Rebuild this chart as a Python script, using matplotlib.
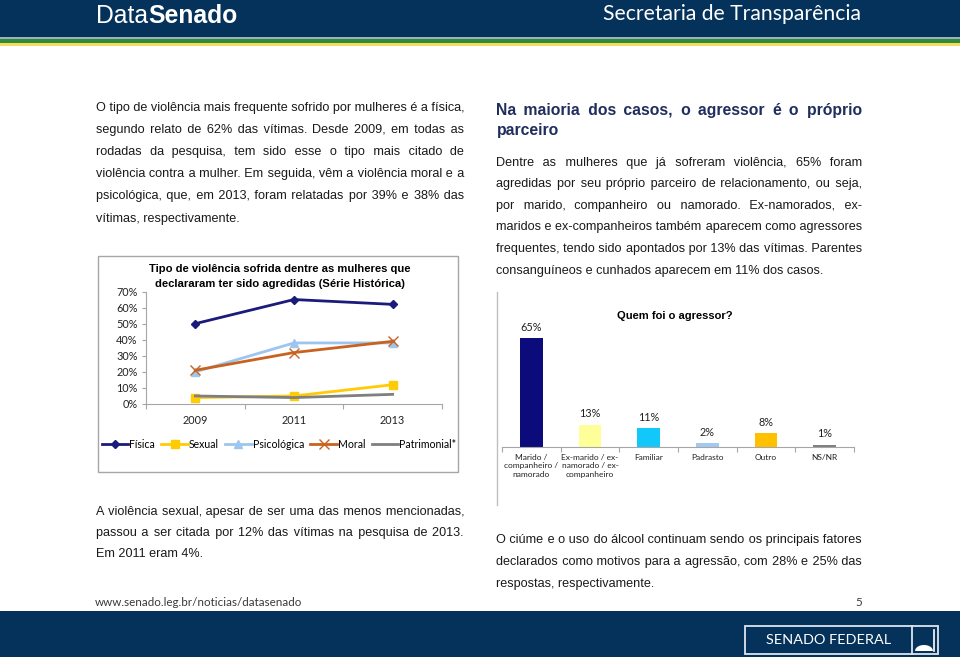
import matplotlib
matplotlib.use('Agg')
import matplotlib.pyplot as plt
from matplotlib.patches import Rectangle
import numpy as np

W, H = 960, 657

# ---------------- data ----------------
years = ['2009', '2011', '2013']
fisica = [50, 65, 62]
sexual = [4, 5, 12]
psicologica = [20, 38, 38]
moral = [21, 32, 39]
patrimonial = [5, 4, 6]
series_names = ['Física', 'Sexual', 'Psicológica', 'Moral', 'Patrimonial*']
y_ticks = [0, 10, 20, 30, 40, 50, 60, 70]

agressor_cats = ['Marido /\ncompanheiro /\nnamorado',
                 'Ex-marido / ex-\nnamorado / ex-\ncompanheiro',
                 'Familiar', 'Padrasto', 'Outro', 'NS/NR']
agressor_vals = [65, 13, 11, 2, 8, 1]
agressor_colors = ['#0b0b7c', '#ffff99', '#12c8fb', '#a3c9ef', '#ffc000', '#808080']

left_par = [
    "O tipo de violência mais frequente sofrido por mulheres é a física,",
    "segundo relato de 62% das vítimas. Desde 2009, em todas as",
    "rodadas da pesquisa, tem sido esse o tipo mais citado de",
    "violência contra a mulher. Em seguida, vêm a violência moral e a",
    "psicológica, que, em 2013, foram relatadas por 39% e 38% das",
    "vítimas, respectivamente.",
]
right_head = ["Na maioria dos casos, o agressor é o próprio", "parceiro"]
right_par = [
    "Dentre as mulheres que já sofreram violência, 65% foram",
    "agredidas por seu próprio parceiro de relacionamento, ou seja,",
    "por marido, companheiro ou namorado. Ex-namorados, ex-",
    "maridos e ex-companheiros também aparecem como agressores",
    "frequentes, tendo sido apontados por 13% das vítimas. Parentes",
    "consanguíneos e cunhados aparecem em 11% dos casos.",
]
bl_par = [
    "A violência sexual, apesar de ser uma das menos mencionadas,",
    "passou a ser citada por 12% das vítimas na pesquisa de 2013.",
    "Em 2011 eram 4%.",
]
br_par = [
    "O ciúme e o uso do álcool continuam sendo os principais fatores",
    "declarados como motivos para a agressão, com 28% e 25% das",
    "respostas, respectivamente.",
]

ARIAL = ['Liberation Sans', 'DejaVu Sans']
CALI = 'Lato'
NAVY = '#05325a'
TXT = '#1a1a1a'
HS = '\u200a'

fig = plt.figure(figsize=(9.6, 6.57), dpi=100)
bg = fig.add_axes([0, 0, 1, 1])
bg.set_xlim(0, W)
bg.set_ylim(H, 0)
bg.axis('off')
renderer = fig.canvas.get_renderer()


def measure(s, fs, family, weight='normal'):
    t = bg.text(0, 0, s, fontsize=fs, family=family, weight=weight)
    w = t.get_window_extent(renderer).width
    t.remove()
    return w


def fit_fs(s, target, family, weight='normal', base=10.0):
    return base * target / measure(s, base, family, weight)


def em(fs):
    return fs * 100 / 72.0


def justify(line, width, fs, family, weight):
    """Widen the spaces of a line with hair spaces so that it fills `width`."""
    nat = measure(line, fs, family, weight)
    n = line.count(' ')
    if n == 0:
        return line
    hw = (measure('a' + HS * 20 + 'a', fs, family, weight) - measure('aa', fs, family, weight)) / 20
    if hw <= 0:
        return line
    extra = max(width - nat, 0)
    out, i, prev = [], 0, 0
    for ch in line:
        out.append(ch)
        if ch == ' ':
            i += 1
            cum = int(round(i * extra / n / hw))
            out.append(HS * (cum - prev))
            prev = cum
    return ''.join(out)


def paragraph(lines, x0, x1, yc0, dy, fs, family, color, weight='normal'):
    for i, line in enumerate(lines):
        yb = yc0 + i * dy + 0.36 * em(fs)
        s = line if i == len(lines) - 1 else justify(line, x1 - x0, fs, family, weight)
        bg.text(x0, yb, s, fontsize=fs, family=family, weight=weight, color=color,
                ha='left', va='baseline')


# ---------------- header ----------------
bg.add_patch(Rectangle((0, 0), W, 37, color=NAVY, lw=0))
bg.add_patch(Rectangle((0, 37), W, 2.2, color='#9fb0b8', lw=0))
bg.add_patch(Rectangle((0, 39.2), W, 4, color='#2a8c3c', lw=0))
bg.add_patch(Rectangle((0, 43.2), W, 3, color='#f6dc5a', lw=0))

base = 10
wd = measure('Data', base, ARIAL)
ws_ = measure('Senado', base, ARIAL, 'bold')
fsh = base * 142 / (wd + ws_)
bg.text(96, 23, 'Data', fontsize=fsh, family=ARIAL, color='white', ha='left', va='baseline')
bg.text(96 + wd * fsh / base, 23, 'Senado', fontsize=fsh, family=ARIAL, weight='bold',
        color='white', ha='left', va='baseline')
fss = fit_fs('Secretaria de Transparência', 257, CALI)
bg.text(603, 20, 'Secretaria de Transparência', fontsize=fss, family=CALI, color='white',
        ha='left', va='baseline')

# ---------------- footer ----------------
bg.add_patch(Rectangle((0, 611), W, H - 611, color=NAVY, lw=0))
fsu = fit_fs('www.senado.leg.br/noticias/datasenado', 208, CALI)
bg.text(95, 606, 'www.senado.leg.br/noticias/datasenado', fontsize=fsu, family=CALI,
        color='#3a3a3a', ha='left', va='baseline')
bg.text(862, 606, '5', fontsize=fsu, family=CALI, color='#3a3a3a', ha='right', va='baseline')
bg.add_patch(Rectangle((745, 626), 193, 28, fill=False, edgecolor='#dfe5ec', lw=1.3))
bg.plot([912, 912], [626, 654], color='#dfe5ec', lw=1.3)
fsf = fit_fs('SENADO FEDERAL', 124, CALI)
bg.text(829, 640, 'SENADO FEDERAL', fontsize=fsf, family=CALI, color='white',
        ha='center', va='center')
xd = np.linspace(915, 933, 40)
yd = 651 - 6 * np.sqrt(np.clip(1 - ((xd - 924) / 9) ** 2, 0, 1))
bg.fill(np.r_[xd, xd[::-1]], np.r_[yd, np.full_like(xd, 651)], color='white', lw=0)
bg.plot([933.5, 933.5], [630, 651], color='white', lw=1.2)

# ---------------- paragraphs ----------------
cands = []
for lines, x0, x1 in [(left_par, 96, 464), (right_par, 496.5, 862.5),
                      (bl_par, 96, 464), (br_par, 496.5, 862.5)]:
    for line in lines[:-1]:
        cands.append(fit_fs(line, x1 - x0, ARIAL))
pfs = min(cands)
paragraph(left_par, 96, 464, 106, 22.2, pfs, ARIAL, TXT)
paragraph(right_par, 496.5, 862.5, 161, 21.6, pfs, ARIAL, TXT)
paragraph(bl_par, 96, 464, 510, 21, pfs, ARIAL, TXT)
paragraph(br_par, 496.5, 862.5, 538, 22, pfs, ARIAL, TXT)
hfs = fit_fs('parceiro', 62, ARIAL, 'bold')
paragraph(right_head, 496.5, 862.5, 109, 20, hfs, ARIAL, '#1f2e5c', weight='bold')

# ---------------- frames ----------------
bg.add_patch(Rectangle((98.3, 255.7), 360, 216, fill=False, edgecolor='#a6a6a6', lw=1.0))
bg.plot([497, 497], [292, 505], color='#bfbfbf', lw=1.0)

# ---------------- line chart ----------------
tfs = fit_fs('Tipo de violência sofrida dentre as mulheres que', 263, ARIAL, 'bold')
bg.text(280, 268 + 0.36 * em(tfs), 'Tipo de violência sofrida dentre as mulheres que',
        fontsize=tfs, family=ARIAL, weight='bold', color='black', ha='center', va='baseline')
bg.text(280, 282.5 + 0.36 * em(tfs), 'declararam ter sido agredidas (Série Histórica)',
        fontsize=tfs, family=ARIAL, weight='bold', color='black', ha='center', va='baseline')

axL = fig.add_axes([146 / W, 1 - 404 / H, 296 / W, 112.5 / H])
axL.patch.set_alpha(0)
x = np.arange(len(years))
handles = []
handles += axL.plot(x, fisica, color='#1b1b7c', lw=2.0, marker='D', ms=4.2)
handles += axL.plot(x, sexual, color='#ffcb05', lw=2.0, marker='s', ms=5.5)
handles += axL.plot(x, psicologica, color='#9cc6ef', lw=2.0, marker='^', ms=6)
handles += axL.plot(x, moral, color='#c9621f', lw=2.0, marker='x', ms=7, mew=1.0)
handles += axL.plot(x, patrimonial, color='#7f7f7f', lw=2.0)
axL.set_xlim(-0.5, 2.5)
axL.set_ylim(0, 70)
axL.set_yticks(y_ticks)
axL.set_yticklabels([f'{v}%' for v in y_ticks], family=CALI, fontsize=7.8, color='#222222')
axL.set_xticks(x)
axL.set_xticklabels(years, family=CALI, fontsize=7.8, color='#222222')
axL.set_xticks([-0.5, 0.5, 1.5, 2.5], minor=True)
axL.tick_params(axis='x', which='major', length=0, pad=8)
axL.tick_params(axis='x', which='minor', length=3.5, color='#a6a6a6', width=0.8)
axL.tick_params(axis='y', length=3, color='#a6a6a6', width=0.8, pad=3)
for s in ['top', 'right']:
    axL.spines[s].set_visible(False)
for s in ['left', 'bottom']:
    axL.spines[s].set_color('#a6a6a6')
    axL.spines[s].set_linewidth(0.8)

fig.legend(handles, series_names, loc='center', bbox_to_anchor=(279 / W, 1 - 444 / H),
           ncol=5, frameon=False, handlelength=2.5, handletextpad=0.1, columnspacing=0.6,
           prop={'family': CALI, 'size': 7.6}, borderaxespad=0, borderpad=0)

# ---------------- bar chart ----------------
qfs = fit_fs('Quem foi o agressor?', 114.7, ARIAL, 'bold')
bg.text(675, 315 + 0.36 * em(qfs), 'Quem foi o agressor?', fontsize=qfs, family=ARIAL,
        weight='bold', color='black', ha='center', va='baseline')

axR = fig.add_axes([502 / W, 1 - 446.7 / H, 352 / W, 116.7 / H])
axR.patch.set_alpha(0)
xb = np.arange(len(agressor_cats))
axR.bar(xb, agressor_vals, width=0.39, color=agressor_colors)
axR.set_xlim(-0.5, len(agressor_cats) - 0.5)
axR.set_ylim(0, 70)
axR.set_yticks([])
for s in ['top', 'right', 'left']:
    axR.spines[s].set_visible(False)
axR.spines['bottom'].set_color('#a6a6a6')
axR.spines['bottom'].set_linewidth(0.8)
cfs = fit_fs('Ex-marido / ex-', 57, CALI)
axR.set_xticks(xb)
axR.set_xticklabels(agressor_cats, family=CALI, fontsize=cfs, color='#222222', linespacing=1.3,
                    va='top')
axR.set_xticks(np.arange(-0.5, len(agressor_cats)), minor=True)
axR.tick_params(axis='x', which='major', length=0, pad=5)
axR.tick_params(axis='x', which='minor', length=3.5, color='#a6a6a6', width=0.8)
for i, v in enumerate(agressor_vals):
    axR.annotate(f'{v}%', (i, v), xytext=(0, 8), textcoords='offset points', ha='center',
                 va='center', family=CALI, fontsize=7.8, color='#222222')

fig.savefig('out.png', dpi=100)
